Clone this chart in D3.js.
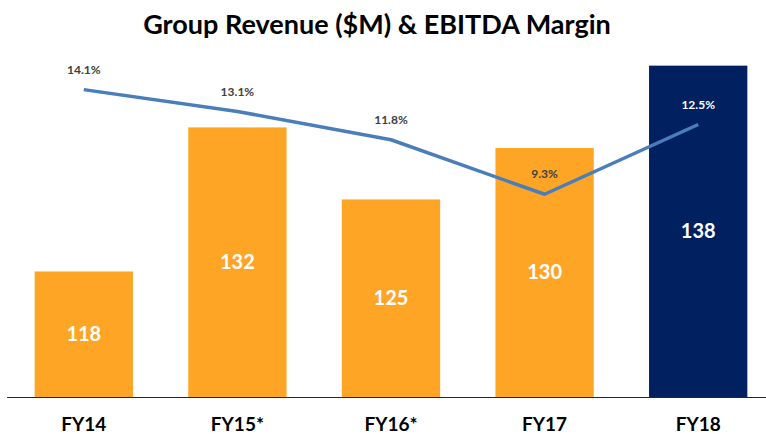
<!DOCTYPE html>
<html>
<head>
<meta charset="utf-8">
<script src="https://cdn.jsdelivr.net/npm/d3@7"></script>
<style>
  body { margin: 0; background: #fff; }
  svg { display: block; font-family: Lato, "Open Sans", sans-serif; }
</style>
</head>
<body>
<svg id="chart" width="766" height="434"></svg>
<script>
// Chart data
const years = ["FY14", "FY15*", "FY16*", "FY17", "FY18"];
const revenue = [118, 132, 125, 130, 138];
const margin = [14.1, 13.1, 11.8, 9.3, 12.5];
const marginLabels = ["14.1%", "13.1%", "11.8%", "9.3%", "12.5%"];

const svg = d3.select("#chart");
const baseY = 397;

// Scales
const x = d3.scaleBand().domain(years).range([7, 775])
  .paddingInner(0.36).paddingOuter(0.18);
const yBar = d3.scaleLinear().domain([105.8, 140]).range([baseY, baseY - 34.2 * 10.29]);
const yLine = d3.scaleLinear().domain([0, 16]).range([baseY, baseY - 16 * 21.8]);

// Title
svg.append("text")
  .attr("x", 377)
  .attr("y", 34)
  .attr("text-anchor", "middle")
  .style("font-size", "27px")
  .style("font-weight", "bold")
  .attr("fill", "#000")
  .text("Group Revenue ($M) & EBITDA Margin");

// Bars
svg.selectAll(".bar")
  .data(years)
  .enter()
  .append("rect")
  .attr("x", d => x(d))
  .attr("y", (d, i) => yBar(revenue[i]))
  .attr("width", x.bandwidth())
  .attr("height", (d, i) => baseY - yBar(revenue[i]) + 1)
  .attr("fill", (d, i) => i === years.length - 1 ? "#002060" : "#FFA526");

// Bar value labels
svg.selectAll(".barLabel")
  .data(years)
  .enter()
  .append("text")
  .attr("x", d => x(d) + x.bandwidth() / 2)
  .attr("y", (d, i) => (yBar(revenue[i]) + baseY) / 2)
  .attr("dy", "0.35em")
  .attr("text-anchor", "middle")
  .style("font-size", "20px")
  .style("font-weight", "bold")
  .attr("fill", "#fff")
  .text((d, i) => revenue[i]);

// Axis line
svg.append("line")
  .attr("x1", 7).attr("x2", 766)
  .attr("y1", baseY + 0.5).attr("y2", baseY + 0.5)
  .attr("stroke", "#262626")
  .attr("stroke-width", 1);

// Category labels
svg.selectAll(".xLabel")
  .data(years)
  .enter()
  .append("text")
  .attr("x", d => x(d) + x.bandwidth() / 2)
  .attr("y", 431)
  .attr("text-anchor", "middle")
  .style("font-size", "19px")
  .style("font-weight", "bold")
  .attr("fill", "#000")
  .text(d => d);

// Margin line
const line = d3.line()
  .x((d, i) => x(years[i]) + x.bandwidth() / 2)
  .y(d => yLine(d));

svg.append("path")
  .datum(margin)
  .attr("d", line)
  .attr("fill", "none")
  .attr("stroke", "#4A7EBB")
  .attr("stroke-width", 3.5)
  .attr("stroke-linejoin", "round");

// Margin labels
svg.selectAll(".lineLabel")
  .data(margin)
  .enter()
  .append("text")
  .attr("x", (d, i) => x(years[i]) + x.bandwidth() / 2)
  .attr("y", d => yLine(d) - 20)
  .attr("dy", "0.35em")
  .attr("text-anchor", "middle")
  .style("font-size", "12px")
  .style("font-weight", "bold")
  .attr("fill", (d, i) => i === years.length - 1 ? "#fff" : "#404040")
  .text((d, i) => marginLabels[i]);
</script>
</body>
</html>
